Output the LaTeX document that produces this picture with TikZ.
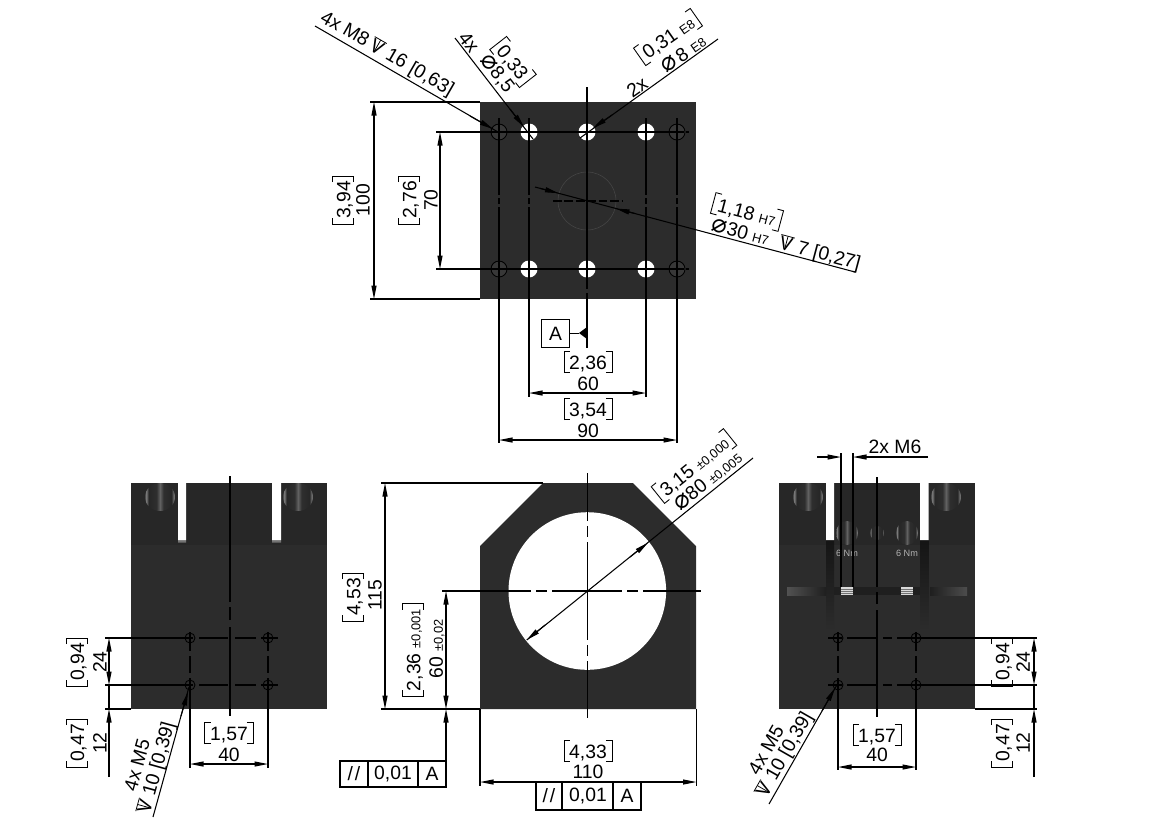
\documentclass[tikz,border=0pt]{standalone}
\usepackage{fontspec}
\setmainfont{Liberation Sans}
\newfontfamily\symfont{DejaVu Sans}
\usetikzlibrary{arrows.meta}
\definecolor{platedark}{HTML}{2C2C2C}
\definecolor{bandtop}{HTML}{272727}
\pgfdeclarehorizontalshading{boltshade}{100bp}{
  color(0bp)=(black!70); color(25bp)=(black!70); color(27bp)=(black!50); color(31bp)=(black!85);
  color(44bp)=(black!82); color(50bp)=(black!62); color(56bp)=(black!82);
  color(69bp)=(black!85); color(73bp)=(black!55); color(75bp)=(black!70); color(100bp)=(black!70)}
\newcommand{\dimfont}{\fontsize{11}{13}\selectfont}
\newcommand{\tolfont}{\fontsize{7.3}{8}\selectfont}
\newcommand{\lbrk}{\rule[-.2em]{.045em}{1.15em}\rlap{\rule[-.2em]{.3em}{.045em}}\rlap{\rule[.905em]{.3em}{.045em}}\hspace{.25em}}
\newcommand{\rbrk}{\hspace{.25em}\llap{\rule[-.2em]{.3em}{.045em}}\llap{\rule[.905em]{.3em}{.045em}}\rule[-.2em]{.045em}{1.15em}}
\newcommand{\brk}[1]{\lbrk #1\rbrk}
\newcommand{\dia}{{\symfont\fontsize{14.5}{14}\selectfont ⌀}}
\newcommand{\depthsym}{\rlap{\rule[.72em]{.72em}{.04em}}\rlap{\hspace{.34em}\rule{.04em}{.72em}}\makebox[.72em][c]{V}}
\tikzset{
  every node/.style={font=\dimfont,inner sep=0pt},
  >={Stealth[length=.27cm,width=.1cm,inset=0pt]},
  dimline/.style={line width=.6pt},
  bolthead/.style={shading=boltshade,draw=none},
  tolframe/.style={draw,line width=.6pt,fill=white}
}
\begin{document}
\begin{tikzpicture}[x=.02cm,y=-.02cm]
	\useasboundingbox (0,0) rectangle (1169,826);
	% top view plate
	\fill[platedark] (480,102) rectangle (696,299);
	\draw[line width=.3pt,draw=black!72] (587,201) circle [radius=29];
	\foreach \hx in {529,587,646} \foreach \hy in {132,269}
		\fill[white] (\hx,\hy) circle [radius=8.5];
	\foreach \hx in {499,677} \foreach \hy in {132,269}
		\draw[fill=black!78,draw=black,line width=.5pt] (\hx,\hy) circle [radius=8];
	% top view center lines
	\draw[dimline] (436,132) -- (684,132) (686,132) -- (689,132);
	\draw[dimline] (436,269) -- (684,269) (686,269) -- (689,269);
	\foreach \hx in {529,646}
		\draw[dimline] (\hx,118) -- (\hx,195) (\hx,198) -- (\hx,204) (\hx,207) -- (\hx,397);
	\foreach \hx in {499,677}
		\draw[dimline] (\hx,118) -- (\hx,195) (\hx,198) -- (\hx,204) (\hx,207) -- (\hx,443);
	\draw[dimline] (587,87) -- (587,289) (587,293) -- (587,348);
	\draw[dimline,dash pattern=on 5pt off 1.5pt] (553,201) -- (623,201);
	% dimension 100
	\draw[dimline] (370,102) -- (480,102) (370,299) -- (480,299);
	\draw[<->,dimline] (374,102) -- (374,299);
	\node[rotate=90] (inchHeightTop) at (343,200) {\brk{3,94}};
	\node[rotate=90] (mmHeightTop) at (363,200) {100};
	% dimension 70
	\draw[<->,dimline] (440,132) -- (440,269);
	\node[rotate=90] (inchHoleTop) at (409,200) {\brk{2,76}};
	\node[rotate=90] (mmHoleTop) at (431,200) {70};
	% dimensions 60 and 90
	\draw[<->,dimline] (529,393) -- (646,393);
	\node (inchSixty) at (588,362) {\brk{2,36}};
	\node (mmSixty) at (588,384) {60};
	\draw[<->,dimline] (499,440) -- (677,440);
	\node (inchNinety) at (588,409) {\brk{3,54}};
	\node (mmNinety) at (588,431) {90};
	% datum A
	\node[draw,line width=.6pt,minimum width=.57cm,minimum height=.56cm] (datumA) at (555.5,333.5) {A};
	\fill (587,327) -- (579,333) -- (587,339) -- cycle;
	\draw[dimline] (datumA.east) -- (579,333.5);
	% leader M8
	\draw[dimline] (315,26) -- (498,132);
	\draw[->,dimline] (470,116) -- (493,129);
	\node[rotate=-30] (labelMEight) at (387,54) {4x M8\,\depthsym\ 16 [0,63]};
	% leader 8,5
	\draw[dimline] (455,38) -- (533,139);
	\draw[->,dimline] (510,109) -- (524,127);
	\node[rotate=-52] (labelFourX) at (469,42) {4x};
	\node[rotate=-52] (labelDiaEight) at (497,74) {\dia 8,5};
	\node[rotate=-52] (labelInchEight) at (513,62) {\brk{0,33}};
	% leader 8 E8
	\draw[dimline] (718,39) -- (580,138);
	\draw[->,dimline] (612,115) -- (593,128);
	\node[rotate=35] (labelTwoX) at (637,87) {2x};
	\node[rotate=35] (labelDiaFit) at (683,54) {\dia\,8 {\tolfont E8}};
	\node[rotate=35] (labelInchFit) at (668,37) {\brk{0,31 {\tolfont E8}}};
	% leader 30 H7
	\draw[dimline] (535,187) -- (855,272);
	\draw[->,dimline] (540,188.3) -- (558.5,193.2);
	\draw[->,dimline] (635,213.5) -- (616,208.6);
	\node[rotate=-15] (labelInchBore) at (747,212) {\brk{1,18 {\tolfont H7}}};
	\node[rotate=-15] (labelDiaBore) at (786,245) {\dia 30 {\tolfont H7}\ \ \depthsym\ 7 [0,27]};
	% left view
	\fill[platedark] (131,483) rectangle (327,709);
	\fill[bandtop] (131,483) rectangle (327,545);
	\fill[black!55] (178,540) rectangle (186,542.5) (272,540) rectangle (281,542.5);
	\fill[white] (178,482) rectangle (186,540) (272,482) rectangle (281,540);
	\foreach \hx in {160,298}
		\shade[bolthead] (\hx,497) ellipse [x radius=15,y radius=14];
	\draw[dimline] (230,476) -- (230,602) (230,607) -- (230,620) (230,627) -- (230,716);
	\foreach \hx in {190,268} \foreach \hy in {638,685}
		\draw[line width=.5pt] (\hx,\hy) circle [radius=5];
	\foreach \hy in {638,685}
		\draw[dimline] (105,\hy) -- (193,\hy) (199,\hy) -- (228,\hy) (235,\hy) -- (256,\hy) (261,\hy) -- (278,\hy);
	\foreach \hx in {190,268}
		\draw[dimline] (\hx,632) -- (\hx,651) (\hx,656) -- (\hx,673) (\hx,678) -- (\hx,768);
	% left view dimensions
	\draw[dimline] (105,709) -- (131,709);
	\draw[<->,dimline] (109,638) -- (109,685);
	\draw[dimline] (109,685) -- (109,709);
	\draw[->,dimline] (109,777) -- (109,709);
	\node[rotate=90] (inchTwentyFourL) at (77,662) {\brk{0,94}};
	\node[rotate=90] (mmTwentyFourL) at (100,662) {24};
	\node[rotate=90] (inchTwelveL) at (77,743) {\brk{0,47}};
	\node[rotate=90] (mmTwelveL) at (100,743) {12};
	\draw[<->,dimline] (190,764) -- (268,764);
	\node (inchFortyL) at (229,733) {\brk{1,57}};
	\node (mmFortyL) at (229,755) {40};
	\draw[dimline] (153,817) -- (189,687);
	\draw[->,dimline] (181,716) -- (188,692);
	\node[rotate=74.5] (labelLeftA) at (137,765) {4x M5};
	\node[rotate=74.5] (labelLeftB) at (157,768) {\depthsym\ 10 [0,39]};
	% center view
	\fill[platedark] (480,546) -- (543,483) -- (633,483) -- (696,546) -- (696,709) -- (480,709) -- cycle;
	\fill[white] (587.3,591) circle [radius=78.8];
	\draw[dimline] (442,591) -- (531,591) (536,591) -- (547,591) (552,591) -- (622,591) (627,591) -- (638,591) (643,591) -- (701,591);
	\draw[dimline] (587.3,473) -- (587.3,521) (587.3,526) -- (587.3,537) (587.3,542) -- (587.3,640) (587.3,645) -- (587.3,656) (587.3,661) -- (587.3,718);
	% dimension 115
	\draw[dimline] (381,483) -- (543,483) (381,709) -- (480,709);
	\draw[<->,dimline] (385,483) -- (385,709);
	\node[rotate=90] (inchHeightFront) at (353,597) {\brk{4,53}};
	\node[rotate=90] (mmHeightFront) at (375,595) {115};
	% dimension 60 with tolerance
	\draw[<->,dimline] (446,591) -- (446,709);
	\draw[->,dimline] (446,761) -- (446,709);
	\node[rotate=90] (inchAxisFront) at (413,650) {\brk{2,36 {\tolfont ±0,001}}};
	\node[rotate=90] (mmAxisFront) at (437,649) {60 {\tolfont ±0,02}};
	% left tolerance frame
	\draw[tolframe] (340,761) rectangle (446,787);
	\draw[dimline] (368,761) -- (368,787) (418,761) -- (418,787);
	\node (tolLeftA) at (354,774) {/\kern.1em/};
	\node (tolLeftB) at (393,774) {0,01};
	\node (tolLeftC) at (432,774) {A};
	% dimension 110
	\draw[dimline] (480,709) -- (480,786) (696.5,709) -- (696.5,786);
	\draw[<->,dimline] (480,782) -- (696.5,782);
	\node (inchWidthFront) at (588,751) {\brk{4,33}};
	\node (mmWidthFront) at (588,772) {110};
	% bottom tolerance frame
	\draw[tolframe] (536,782.5) rectangle (641,810);
	\draw[dimline] (562,782.5) -- (562,810) (613,782.5) -- (613,810);
	\node (tolBottomA) at (549,796) {/\kern.1em/};
	\node (tolBottomB) at (588,796) {0,01};
	\node (tolBottomC) at (627,796) {A};
	% leader 80
	\draw[dimline] (753,458) -- (526.7,640);
	\draw[->,dimline] (630,557) -- (648,542.7);
	\draw[->,dimline] (545,625) -- (526.7,640);
	\node[rotate=38.8] (labelInchBig) at (694,466) {\brk{3,15 {\tolfont ±0,000}}};
	\node[rotate=38.8] (labelDiaBig) at (708,481) {\dia 80 {\tolfont ±0,005}};
	% right view
	\fill[platedark] (779,483) rectangle (975,709);
	\fill[bandtop] (779,483) rectangle (975,545);
	\shade[top color=black!92,bottom color=platedark] (826,540) rectangle (834,630);
	\shade[top color=black!92,bottom color=platedark] (920,540) rectangle (928.5,630);
	\fill[white] (826,482) rectangle (834,540) (920,482) rectangle (928.5,540);
	\foreach \hx in {808,946}
		\shade[bolthead] (\hx,497) ellipse [x radius=15,y radius=14];
	\foreach \hx in {847,907}
		\shade[bolthead] (\hx,533) ellipse [x radius=11,y radius=12];
	\shade[bolthead] (877,533) ellipse [x radius=7,y radius=7];
	\shade[left color=black!68,right color=black!88] (787,587) rectangle (826,595);
	\shade[left color=black!88,right color=black!70] (930,587) rectangle (967,595);
	\fill[black!88] (834,587) rectangle (920,595);
	\foreach \hx in {847,907} {
		\fill[black!15] (\hx-6,587) rectangle (\hx+6,595);
		\foreach \hy in {589,591,593}
			\draw[black!55,line width=.2pt] (\hx-6,\hy) -- (\hx+6,\hy);
	}
	\node[text=black!30,font=\fontsize{5.2}{6}\selectfont] (torqueLeft) at (847,553) {6 Nm};
	\node[text=black!30,font=\fontsize{5.2}{6}\selectfont] (torqueRight) at (907,553) {6 Nm};
	\draw[dimline] (877,477) -- (877,587) (877,592) -- (877,604) (877,610) -- (877,717);
	\foreach \hx in {838,916} \foreach \hy in {638,685}
		\draw[line width=.5pt] (\hx,\hy) circle [radius=5];
	\foreach \hy in {638,685}
		\draw[dimline] (828,\hy) -- (842,\hy) (847,\hy) -- (878,\hy) (883,\hy) -- (892,\hy) (897,\hy) -- (1037,\hy);
	\foreach \hx in {838,916}
		\draw[dimline] (\hx,632) -- (\hx,651) (\hx,656) -- (\hx,673) (\hx,678) -- (\hx,770);
	% dimension 2x M6
	\draw[dimline] (841,453) -- (841,587) (853,453) -- (853,587);
	\draw[->,dimline] (817,457) -- (841,457);
	\draw[->,dimline] (928,457) -- (853,457);
	\node (labelMSix) at (895,447) {2x M6};
	% right view dimensions
	\draw[dimline] (975,709) -- (1037,709);
	\draw[<->,dimline] (1034,638) -- (1034,685);
	\draw[dimline] (1034,685) -- (1034,709);
	\draw[->,dimline] (1034,777) -- (1034,709);
	\node[rotate=90] (inchTwentyFourR) at (1002,662) {\brk{0,94}};
	\node[rotate=90] (mmTwentyFourR) at (1023,662) {24};
	\node[rotate=90] (inchTwelveR) at (1002,743) {\brk{0,47}};
	\node[rotate=90] (mmTwelveR) at (1023,743) {12};
	\draw[<->,dimline] (838,767) -- (916,767);
	\node (inchFortyR) at (877,735) {\brk{1,57}};
	\node (mmFortyR) at (877,755) {40};
	\draw[dimline] (769,804) -- (838,683);
	\draw[->,dimline] (822,711) -- (835,688);
	\node[rotate=60.3] (labelRightA) at (766,750) {4x M5};
	\node[rotate=60.3] (labelRightB) at (785,755) {\depthsym\ 10 [0,39]};
\end{tikzpicture}
\end{document}
